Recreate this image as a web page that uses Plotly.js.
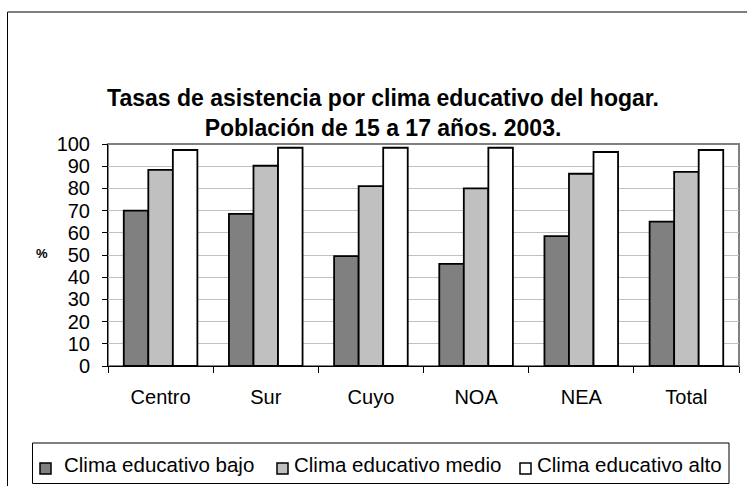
<!DOCTYPE html>
<html>
<head>
<meta charset="utf-8">
<script src="https://cdn.plot.ly/plotly-3.0.1.min.js"></script>
<style>html,body{margin:0;padding:0;background:#fff;}#chart{width:747px;height:486px;}</style>
</head>
<body>
<div id="chart"></div>
<script>
const categories = ["Centro", "Sur", "Cuyo", "NOA", "NEA", "Total"];
const bajo = [70, 68.5, 49.5, 46, 58.5, 65];
const medio = [88.3, 90.2, 81, 80, 86.6, 87.4];
const alto = [97.3, 98.3, 98.3, 98.3, 96.4, 97.3];
const seriesNames = ["Clima educativo bajo", "Clima educativo medio", "Clima educativo alto"];
const yTicks = [0, 10, 20, 30, 40, 50, 60, 70, 80, 90, 100];

const colors = ["#808080", "#c0c0c0", "#ffffff"];
const data = [bajo, medio, alto].map((vals, i) => ({
  type: "bar",
  name: seriesNames[i],
  x: categories,
  y: vals,
  marker: {color: colors[i], line: {color: "#000000", width: 1.8}},
  hoverinfo: "x+y+name"
}));

const L = 108, R = 739, T = 144, B = 366, W = 747, H = 486;
const px = v => (v - L) / (R - L);
const py = v => (B - v) / (B - T);
const FONT = "Liberation Sans, Arial, sans-serif";

// legend drawn as a boxed row (positions in page pixels)
const legendSquareX = [40, 277, 520];
const legendTextX = [62, 292, 535];
const legendShapes = seriesNames.map((n, i) => ({
  type: "rect", xref: "paper", yref: "paper",
  x0: px(legendSquareX[i]), x1: px(legendSquareX[i] + 11),
  y0: py(474), y1: py(463),
  fillcolor: colors[i], line: {color: "#000000", width: 1.5}
}));
const legendTexts = seriesNames.map((n, i) => ({
  text: n, xref: "paper", yref: "paper",
  x: px(legendTextX[i]), y: py(464),
  xanchor: "left", yanchor: "middle", showarrow: false,
  font: {size: 20.5}
}));

const layout = {
  width: W, height: H,
  margin: {l: L, r: W - R, t: T, b: H - B, pad: 0},
  paper_bgcolor: "#ffffff",
  plot_bgcolor: "#ffffff",
  font: {family: FONT, color: "#000000", size: 20},
  title: {
    text: "<b>Tasas de asistencia por clima educativo del hogar.</b><br><b>Población de 15 a 17 años. 2003.</b>",
    font: {family: FONT, size: 23, color: "#000000"},
    x: 383 / W, xref: "container", xanchor: "center",
    y: 1 - 106 / H, yref: "container", yanchor: "top"
  },
  barmode: "group",
  bargap: 0.3,
  bargroupgap: 0,
  showlegend: false,
  xaxis: {
    type: "category",
    showline: true, linecolor: "#000000", linewidth: 1,
    ticks: "outside", tickson: "boundaries", ticklen: 6, tickcolor: "#000000",
    tickfont: {size: 20},
    ticklabelstandoff: 13,
    showgrid: false, zeroline: false,
    fixedrange: true
  },
  yaxis: {
    range: [0, 100],
    tickvals: yTicks,
    ticktext: yTicks.map(String),
    showline: true, linecolor: "#000000", linewidth: 1,
    ticks: "outside", ticklen: 5, tickcolor: "#000000",
    tickfont: {size: 20},
    ticklabelstandoff: 8,
    showgrid: true, gridcolor: "#c0c0c0", gridwidth: 1,
    zeroline: false,
    fixedrange: true
  },
  annotations: [
    {text: "<b>%</b>", xref: "paper", yref: "paper", x: px(42), y: py(253),
     showarrow: false, font: {size: 13}, xanchor: "center", yanchor: "middle"}
  ].concat(legendTexts),
  shapes: [
    {type: "rect", xref: "paper", yref: "paper", x0: 0, x1: 1, y0: 0, y1: 1,
     line: {color: "#808080", width: 2}, layer: "below"},
    {type: "rect", xref: "paper", yref: "paper", x0: px(7.5), x1: px(749), y0: py(490), y1: py(12),
     line: {color: "#000000", width: 1}, fillcolor: "rgba(0,0,0,0)"},
    {type: "rect", xref: "paper", yref: "paper", x0: px(32.5), x1: px(729), y0: py(483.5), y1: py(443),
     line: {color: "#000000", width: 1}, fillcolor: "rgba(0,0,0,0)"}
  ].concat(legendShapes)
};

Plotly.newPlot("chart", data, layout, {displayModeBar: false});
</script>
</body>
</html>
